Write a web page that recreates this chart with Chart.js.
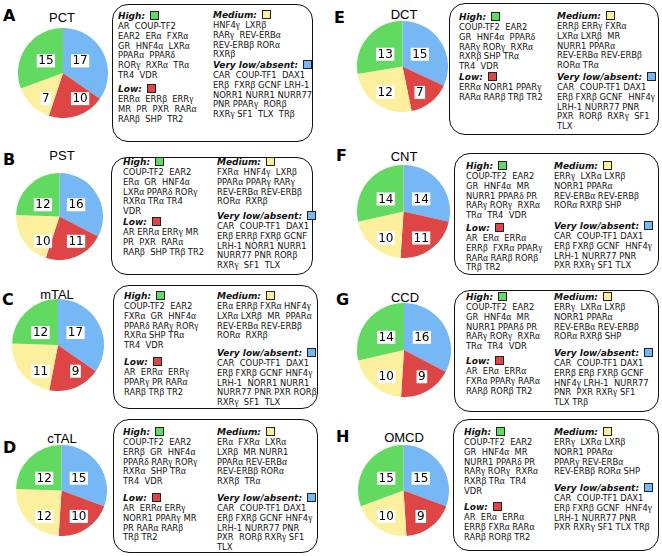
<!DOCTYPE html>
<html><head><meta charset="utf-8">
<script src="https://cdn.jsdelivr.net/npm/chart.js@4.4.1/dist/chart.umd.min.js"></script>
<style>
html,body{margin:0;padding:0;background:#fff;}
#fig{position:relative;width:662px;height:556px;overflow:hidden;font-family:"DejaVu Sans",sans-serif;color:#111;}
.abs{position:absolute;}
.letter{font:bold 16px "DejaVu Sans",sans-serif;line-height:16px;color:#000;}
.title{font:13px "Liberation Sans",Arial,sans-serif;line-height:14px;color:#000;transform:translateX(-50%);white-space:nowrap;}
.box{border:1.5px solid #111;border-radius:16px;box-sizing:border-box;}
.line{font-size:8.4px;line-height:9px;height:9px;white-space:pre;}
.hdr{font:bold italic 9px "DejaVu Sans",sans-serif;line-height:9px;height:9px;white-space:pre;}
.sq{display:inline-block;width:7px;height:7px;border:1px solid #222;margin-left:5px;vertical-align:-1px;}
.g{font-family:"Liberation Serif",serif;font-size:9.4px;}
</style></head>
<body><div id="fig"></div>
<script>
// ---- DATA ----
const panelLetters = ['A','B','C','D','E','F','G','H'];
const segments = ['PCT','PST','mTAL','cTAL','DCT','CNT','CCD','OMCD'];
const categories = ['Very low/absent','Low','Medium','High'];
const veryLowCounts = [17,16,17,15,15,14,16,15];
const lowCounts     = [10,11, 9,10, 7,11, 9, 9];
const mediumCounts  = [ 7,10,11,12,12,10,10,10];
const highCounts    = [15,12,12,12,13,14,14,15];

const highLines = [
 ['AR  COUP-TF2','EAR2  ERα  FXRα','GR  HNF4α  LXRα','PPARα  PPARδ','RORγ  RXRα  TRα','TR4  VDR'],
 ['COUP-TF2  EAR2','ERα  GR  HNF4α','LXRα PPARδ RORγ','RXRα TRα TR4','VDR'],
 ['COUP-TF2  EAR2','FXRα  GR  HNF4α','PPARδ RARγ RORγ','RXRα SHP TRα','TR4  VDR'],
 ['COUP-TF2  EAR2','ERRβ  GR  HNF4α','PPARδ RARγ RORγ','RXRα  SHP TRα','TR4  VDR'],
 ['COUP-TF2  EAR2','GR  HNF4α  PPARδ','RARγ RORγ  RXRα','RXRβ SHP TRα','TR4  VDR'],
 ['COUP-TF2  EAR2','GR  HNF4α  MR','NURR1 PPARδ PR','RARγ RORγ  RXRα','TRα  TR4  VDR'],
 ['COUP-TF2  EAR2','GR  HNF4α  MR','NURR1 PPARδ PR','RARγ RORγ  RXRα','TRα  TR4  VDR'],
 ['COUP-TF2  EAR2','GR  HNF4α  MR','NURR1 PPARδ PR','RARγ RORγ  RXRα','RXRβ TRα  TR4','VDR']
];
const lowLines = [
 ['ERRα  ERRβ  ERRγ','MR  PR  PXR  RARα','RARβ  SHP  TR2'],
 ['AR ERRα ERRγ MR','PR  PXR  RARα','RARβ  SHP TRβ TR2'],
 ['AR  ERRα  ERRγ','PPARγ PR RARα','RARβ TRβ TR2'],
 ['AR  ERRα ERRγ','NORR1 PPARγ MR','PR RARα RARβ','TRβ TR2'],
 ['ERRα NORR1 PPARγ','RARα RARβ TRβ TR2'],
 ['AR  ERα  ERRα','ERRβ  FXRα PPARγ','RARα RARβ RORβ','TRβ TR2'],
 ['AR  ERα  ERRα','FXRα PPARγ RARα','RARβ RORβ TR2'],
 ['AR  ERα  ERRα','ERRβ FXRα RARα','RARβ RORβ TR2']
];
const mediumLines = [
 ['HNF4γ  LXRβ','RARγ  REV-ERBα','REV-ERBβ RORα','RXRβ'],
 ['FXRα  HNF4γ  LXRβ','PPARα PPARγ RARγ','REV-ERBα REV-ERBβ','RORα  RXRβ'],
 ['ERα ERRβ FXRα HNF4γ','LXRα LXRβ  MR  PPARα','REV-ERBα REV-ERBβ','RORα  RXRβ'],
 ['ERα  FXRα  LXRα','LXRβ  MR NURR1','PPARα REV-ERBα','REV-ERBβ RORα','RXRβ  TRα'],
 ['ERRβ ERRγ FXRα','LXRα LXRβ  MR','NURR1 PPARα','REV-ERBα REV-ERBβ','RORα TRα'],
 ['ERRγ  LXRα LXRβ','NORR1 PPARα','REV-ERBα REV-ERBβ','RORα RXRβ SHP'],
 ['ERRγ  LXRα LXRβ','NORR1 PPARα','REV-ERBα REV-ERBβ','RORα RXRβ SHP'],
 ['ERRγ  LXRα LXRβ','NORR1 PPARα','PPARγ REV-ERBα','REV-ERBβ RORα SHP']
];
const veryLowLines = [
 ['CAR  COUP-TF1  DAX1','ERβ  FXRβ GCNF LRH-1','NORR1 NURR1 NURR77','PNR PPARγ  RORβ','RXRγ SF1  TLX  TRβ'],
 ['CAR  COUP-TF1  DAX1','ERβ ERRβ FXRβ GCNF','LRH-1 NORR1 NURR1','NURR77 PNR RORβ','RXRγ  SF1  TLX'],
 ['CAR  COUP-TF1  DAX1','ERβ FXRβ GCNF HNF4γ','LRH-1  NORR1 NURR1','NURR77 PNR PXR RORβ','RXRγ  SF1  TLX'],
 ['CAR  COUP-TF1 DAX1','ERβ FXRβ GCNF HNF4γ','LRH-1 NURR77 PNR','PXR  RORβ RXRγ SF1','TLX'],
 ['CAR  COUP-TF1 DAX1','ERβ FXRβ GCNF  HNF4γ','LRH-1 NURR77 PNR','PXR  RORβ  RXRγ  SF1','TLX'],
 ['CAR  COUP-TF1 DAX1','ERβ FXRβ GCNF  HNF4γ','LRH-1 NURR77 PNR','PXR RXRγ SF1 TLX'],
 ['CAR  COUP-TF1 DAX1','ERRβ ERβ FXRβ GCNF','HNF4γ LRH-1  NURR77','PNR  PXR RXRγ SF1','TLX TRβ'],
 ['CAR  COUP-TF1 DAX1','ERβ FXRβ GCNF  HNF4γ','LRH-1 NURR77 PNR','PXR RXRγ SF1 TLX TRβ']
];

// ---- STYLE / LAYOUT ----
const sliceColors = ['#76b7f6','#de4646','#fcf09e','#62da62'];
const layout = [
 {letter:[3,8],  title:[62,11],  pie:[62.7,73,45],   box:[112,4,201,138],  lx:118, rx:213, hy:15,  ly:88,  my:14,  vy:64},
 {letter:[3,152],title:[62,149], pie:[59,216,43.5],  box:[111,157,202,118],lx:123, rx:217, hy:161, ly:221, my:161, vy:215},
 {letter:[2,292],title:[57,288], pie:[57.5,345,46],  box:[113,285,205,124],lx:124, rx:217, hy:295, ly:361, my:295, vy:352},
 {letter:[3,440],title:[62,432], pie:[61,490.5,45.5],box:[113,419,205,134],lx:123, rx:217, hy:431, ly:497, my:431, vy:497},
 {letter:[334,10],title:[404,8], pie:[402.7,66,45.5],box:[449,3,210,132],  lx:459, rx:557, hy:16,  ly:76,  my:15,  vy:76},
 {letter:[336,148],title:[404,150],pie:[403,211,46.5],box:[454,153,205,122],lx:466, rx:554, hy:165, ly:227, my:165, vy:225},
 {letter:[336,292],title:[405,291],pie:[403.5,350,47],box:[454,290,205,122],lx:466, rx:554, hy:296, ly:360, my:296, vy:352},
 {letter:[336,429],title:[404,431],pie:[403,490,45.5],box:[453,419,206,132],lx:464, rx:554, hy:431, ly:506, my:431, vy:487}
];
const ROW0 = 11.5, ROWSTEP = 9.8;

const fig = document.getElementById('fig');
function greek(s){ return s.replace(/([αβγδ])/g,'<span class="g">$1</span>'); }
function el(cls, x, y, html){
  const d=document.createElement('div'); d.className='abs '+cls;
  d.style.left=x+'px'; d.style.top=y+'px'; d.innerHTML=html; fig.appendChild(d); return d;
}
function block(x, yHeader, header, color, lines){
  el('hdr', x, yHeader-4.5, header+'<span class="sq" style="background:'+color+'"></span>');
  lines.forEach((t,i)=>{ el('line', x, yHeader+ROW0+i*ROWSTEP-4.5, greek(t)); });
}

// Labels sit in the quadrant of each slice's mid-angle, inside the slice
const labelPlugin = {
  id:'sliceLabels',
  afterDatasetsDraw(chart){
    const ctx=chart.ctx; const meta=chart.getDatasetMeta(0);
    ctx.save();
    ctx.font='12px "DejaVu Sans"'; ctx.textAlign='center'; ctx.textBaseline='middle';
    meta.data.forEach((arc,i)=>{
      const p=arc.getProps(['x','y','startAngle','endAngle','outerRadius'],true);
      const mid=(p.startAngle+p.endAngle)/2;
      const r=p.outerRadius;
      const lx=p.x+Math.sign(Math.cos(mid))*0.38*r;
      const ly=p.y+(Math.sin(mid)>0 ? 0.57*r : -0.27*r);
      const txt=String(chart.data.datasets[0].data[i]);
      const w=ctx.measureText(txt).width;
      ctx.fillStyle='#fff'; ctx.fillRect(lx-w/2-1.5, ly-6.5, w+3, 13);
      ctx.fillStyle='#000'; ctx.fillText(txt, lx, ly+0.5);
    });
    ctx.restore();
  }
};

panelLetters.forEach((L,i)=>{
  const g=layout[i];
  el('letter', g.letter[0], g.letter[1], L);
  el('title', g.title[0], g.title[1], segments[i]);
  const b=el('box', g.box[0], g.box[1], '');
  b.style.width=g.box[2]+'px'; b.style.height=g.box[3]+'px';
  block(g.lx, g.hy, 'High:', sliceColors[3], highLines[i]);
  block(g.lx, g.ly, 'Low:', sliceColors[1], lowLines[i]);
  block(g.rx, g.my, 'Medium:', sliceColors[2], mediumLines[i]);
  block(g.rx, g.vy, 'Very low/absent:', sliceColors[0], veryLowLines[i]);
  const [cx,cy,r]=g.pie; const size=Math.round(2*r);
  const c=document.createElement('canvas'); c.width=size; c.height=size;
  c.style.position='absolute'; c.style.left=(cx-size/2)+'px'; c.style.top=(cy-size/2)+'px';
  c.style.width=size+'px'; c.style.height=size+'px';
  fig.appendChild(c);
  new Chart(c,{
    type:'pie',
    data:{labels:categories, datasets:[{
      data:[veryLowCounts[i],lowCounts[i],mediumCounts[i],highCounts[i]],
      backgroundColor:sliceColors, borderWidth:0
    }]},
    options:{responsive:false, animation:false, devicePixelRatio:1,
      layout:{padding:0},
      plugins:{legend:{display:false},tooltip:{enabled:false},title:{display:false}}},
    plugins:[labelPlugin]
  });
});
</script></body></html>
